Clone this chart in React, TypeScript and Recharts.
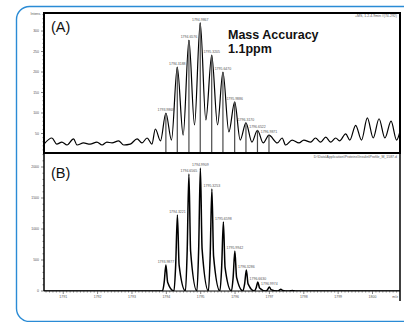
import React from 'react'
import { ComposedChart, Line, Scatter, XAxis, YAxis } from 'recharts'

const W = 404
const H = 322

// layout of the two stacked panels (px)
const A_TOP = 13
const A_BOTTOM = 154
const B_TOP = 153
const B_BOTTOM = 291
const X_AXIS_H = 20

const MZ_DOMAIN: [number, number] = [1790.44, 1800.8]
const A_MAX = 344
const B_MAX = 2226

const xMajorTicks = [1791, 1792, 1793, 1794, 1795, 1796, 1797, 1798, 1799, 1800]
const yMajorA = [50, 100, 150, 200, 250, 300]
const yMajorB = [0, 500, 1000, 1500, 2000]

// (A) measured profile spectrum, [m/z, intensity]
const profileA: [number, number][] = [
  [1790.44, 24], [1790.67, 39], [1790.81, 24], [1790.96, 29], [1791.11, 22], [1791.3, 37],
  [1791.4, 22], [1791.59, 27], [1791.78, 24], [1791.98, 29], [1792.13, 22], [1792.27, 29],
  [1792.42, 27], [1792.61, 32], [1792.76, 22], [1792.95, 24], [1793.15, 37], [1793.29, 27],
  [1793.44, 39], [1793.58, 24], [1793.68, 61], [1793.83, 32],
  [1793.9868, 100], [1794.15, 34], [1794.3188, 212], [1794.49, 46], [1794.6576, 278], [1794.82, 71],
  [1794.9867, 320], [1795.15, 83], [1795.3205, 241], [1795.49, 71], [1795.647, 200], [1795.82, 54],
  [1795.9886, 127], [1796.15, 34], [1796.317, 76], [1796.49, 29], [1796.6522, 58], [1796.82, 27],
  [1796.9871, 46], [1797.23, 27], [1797.37, 39], [1797.47, 22], [1797.66, 34], [1797.86, 27],
  [1798.0, 34], [1798.2, 29], [1798.34, 39], [1798.49, 29], [1798.64, 41], [1798.78, 29],
  [1798.93, 39], [1799.04, 32], [1799.22, 49], [1799.34, 34], [1799.51, 70], [1799.68, 34],
  [1799.85, 88], [1800.02, 39], [1800.19, 86], [1800.36, 39], [1800.54, 80], [1800.7, 34],
  [1800.8, 55],
]

// (A) centroid peaks
const peakMzA = [1793.9868, 1794.3188, 1794.6576, 1794.9867, 1795.3205, 1795.647, 1795.9886, 1796.317, 1796.6522, 1796.9871]
const peakIntA = [100, 212, 278, 320, 241, 200, 127, 76, 58, 46]
const peakLabelA = ['1793.9868', '1794.3188', '1794.6576', '1794.9867', '1795.3205', '1795.6470', '1795.9886', '1796.3170', '1796.6522', '1796.9871']

// (B) simulated isotope pattern, [m/z, intensity]
const profileB: [number, number][] = [
  [1790.44, 0],
  [1793.8877, 0], [1793.9377, 142], [1793.9877, 419], [1794.0377, 142],
  [1794.2221, 0], [1794.2721, 417], [1794.3221, 1226], [1794.3721, 417],
  [1794.5565, 0], [1794.6065, 642], [1794.6565, 1887], [1794.7065, 642],
  [1794.8909, 0], [1794.9409, 675], [1794.9909, 1984], [1795.0409, 675],
  [1795.2253, 0], [1795.2753, 559], [1795.3253, 1645], [1795.3753, 559],
  [1795.5598, 0], [1795.6098, 378], [1795.6598, 1113], [1795.7098, 378],
  [1795.8942, 0], [1795.9442, 219], [1795.9942, 645], [1796.0442, 219],
  [1796.2286, 0], [1796.2786, 115], [1796.3286, 339], [1796.3786, 115],
  [1796.563, 0], [1796.613, 49], [1796.663, 145], [1796.713, 49],
  [1796.8974, 0], [1796.9474, 22], [1796.9974, 65], [1797.0474, 22],
  [1797.2318, 0], [1797.2818, 10], [1797.3318, 30], [1797.3818, 10],
  [1797.5662, 0], [1797.6162, 3], [1797.6662, 10], [1797.7162, 3], [1797.7662, 0],
  [1800.8, 0],
]

const peakMzB = [1793.9877, 1794.3221, 1794.6565, 1794.9909, 1795.3253, 1795.6598, 1795.9942, 1796.3286, 1796.663, 1796.9974]
const peakIntB = [419, 1226, 1887, 1984, 1645, 1113, 645, 339, 145, 65]
const peakLabelB = ['1793.9877', '1794.3221', '1794.6565', '1794.9909', '1795.3253', '1795.6598', '1795.9942', '1796.3286', '1796.6630', '1796.9974']

const lineA = profileA.map(([mz, i]) => ({ mz, i }))
const lineB = profileB.map(([mz, i]) => ({ mz, i }))
const sticksA = peakMzA.map((mz, k) => ({ mz, i: peakIntA[k], label: peakLabelA[k] }))
const sticksB = peakMzB.map((mz, k) => ({ mz, i: peakIntB[k], label: peakLabelB[k] }))

// minor ticks every 0.1 m/z, every 10 / 100 counts
const xTicks = Array.from({ length: 103 }, (_, k) => Math.round((1790.5 + k * 0.1) * 10) / 10)
const yTicksA = Array.from({ length: 34 }, (_, k) => (k + 1) * 10)
const yTicksB = Array.from({ length: 23 }, (_, k) => k * 100)

const TINY = 3.5
const TINY_FILL = '#555'
const FONT = '"Liberation Sans", Arial, sans-serif'

function makeYTick(majors: number[]) {
  return function YTick(props: any) {
    const { x, y, payload } = props
    const major = majors.includes(payload.value)
    return (
      <g>
        <line x1={x - (major ? 3 : 1.5)} y1={y} x2={x} y2={y} stroke="#333" strokeWidth={0.6} />
        {major && (
          <text x={x - 5} y={y + 1.2} textAnchor="end" fontSize={TINY} fill={TINY_FILL} fontFamily={FONT}>
            {payload.value}
          </text>
        )}
      </g>
    )
  }
}

function XTick(props: any) {
  const { x, y, payload } = props
  const major = xMajorTicks.includes(payload.value)
  return (
    <g>
      <line x1={x} y1={y} x2={x} y2={y + (major ? 3 : 1.5)} stroke="#333" strokeWidth={0.6} />
      {major && (
        <text x={x} y={y + 7} textAnchor="middle" fontSize={TINY} fill={TINY_FILL} fontFamily={FONT}>
          {payload.value}
        </text>
      )}
    </g>
  )
}

function StickA(props: any) {
  const { cx, cy, payload } = props
  return (
    <g>
      <line x1={cx} y1={cy} x2={cx} y2={A_BOTTOM} stroke="#4a4a4a" strokeWidth={1.2} />
      <text x={cx} y={cy - 2} textAnchor="middle" fontSize={TINY} fill={TINY_FILL} fontFamily={FONT}>
        {payload.label}
      </text>
    </g>
  )
}

function LabelB(props: any) {
  const { cx, cy, payload } = props
  return (
    <text x={cx} y={cy - 2} textAnchor="middle" fontSize={TINY} fill={TINY_FILL} fontFamily={FONT}>
      {payload.label}
    </text>
  )
}

const layer: React.CSSProperties = { position: 'absolute', left: 0, top: 0 }

export default function App() {
  return (
    <div style={{ position: 'absolute', left: 0, top: 0, width: W, height: H, background: '#fff', overflow: 'hidden' }}>
      <div style={layer}>
        <ComposedChart width={W} height={H} margin={{ top: A_TOP, right: 4, left: 0, bottom: H - A_BOTTOM }}>
          <XAxis type="number" dataKey="mz" domain={MZ_DOMAIN} allowDataOverflow hide />
          <YAxis
            type="number"
            dataKey="i"
            domain={[0, A_MAX]}
            allowDataOverflow
            ticks={yTicksA}
            interval={0}
            width={44}
            axisLine={false}
            tickLine={false}
            tickSize={0}
            tickMargin={0}
            tick={makeYTick(yMajorA)}
          />
          <Scatter data={sticksA} shape={<StickA />} isAnimationActive={false} />
          <Line data={lineA} dataKey="i" type="monotone" stroke="#000" strokeWidth={1.2} dot={false} isAnimationActive={false} />
        </ComposedChart>
      </div>

      <div style={layer}>
        <ComposedChart width={W} height={H} margin={{ top: B_TOP, right: 4, left: 0, bottom: H - B_BOTTOM - X_AXIS_H }}>
          <XAxis
            type="number"
            dataKey="mz"
            domain={MZ_DOMAIN}
            allowDataOverflow
            ticks={xTicks}
            interval={0}
            height={X_AXIS_H}
            axisLine={{ stroke: '#000', strokeWidth: 1 }}
            tickLine={false}
            tickSize={0}
            tickMargin={0}
            tick={<XTick />}
          />
          <YAxis
            type="number"
            dataKey="i"
            domain={[0, B_MAX]}
            allowDataOverflow
            ticks={yTicksB}
            interval={0}
            width={44}
            axisLine={false}
            tickLine={false}
            tickSize={0}
            tickMargin={0}
            tick={makeYTick(yMajorB)}
          />
          <Line data={lineB} dataKey="i" type="monotone" stroke="#000" strokeWidth={1.5} dot={false} isAnimationActive={false} />
          <Scatter data={sticksB} shape={<LabelB />} isAnimationActive={false} />
        </ComposedChart>
      </div>

      <svg width={W} height={H} style={{ ...layer, pointerEvents: 'none' }}>
        <rect x={16.5} y={6.5} width={440} height={315} rx={13} fill="none" stroke="#2a8bd5" strokeWidth={1.4} />
        {/* panel frames */}
        <rect x={44} y={A_TOP} width={356} height={140} fill="none" stroke="#000" strokeWidth={2} />
        <line x1={44} y1={B_TOP} x2={44} y2={B_BOTTOM} stroke="#000" strokeWidth={1.5} />
        <line x1={400} y1={B_TOP} x2={400} y2={301} stroke="#000" strokeWidth={1.5} />
        <text x={41} y={15} textAnchor="end" fontSize={TINY} fill={TINY_FILL} fontFamily={FONT}>Intens.</text>
        <text x={398} y={292} textAnchor="end" fontSize={TINY} fill={TINY_FILL} fontFamily={FONT} dy={6}>m/z</text>
        <text x={397} y={17} textAnchor="end" fontSize={TINY} fill={TINY_FILL} fontFamily={FONT}>+MS, 1.2-4.9min #(74-292)</text>
        <text x={397} y={158} textAnchor="end" fontSize={TINY} fill={TINY_FILL} fontFamily={FONT}>
          D:\Data\Application\Proteins\Insulin\Profile_M_1587.d
        </text>

        <text x={51} y={31.5} fontSize={14.5} fill="#111" fontFamily={FONT}>(A)</text>
        <text x={51} y={178} fontSize={14.5} fill="#111" fontFamily={FONT}>(B)</text>

        <text x={228} y={38.5} fontSize={12.5} fontWeight="bold" fill="#111" fontFamily={FONT}>Mass Accuracy</text>
        <text x={228} y={53} fontSize={12.5} fontWeight="bold" fill="#111" fontFamily={FONT}>1.1ppm</text>
      </svg>
    </div>
  )
}
